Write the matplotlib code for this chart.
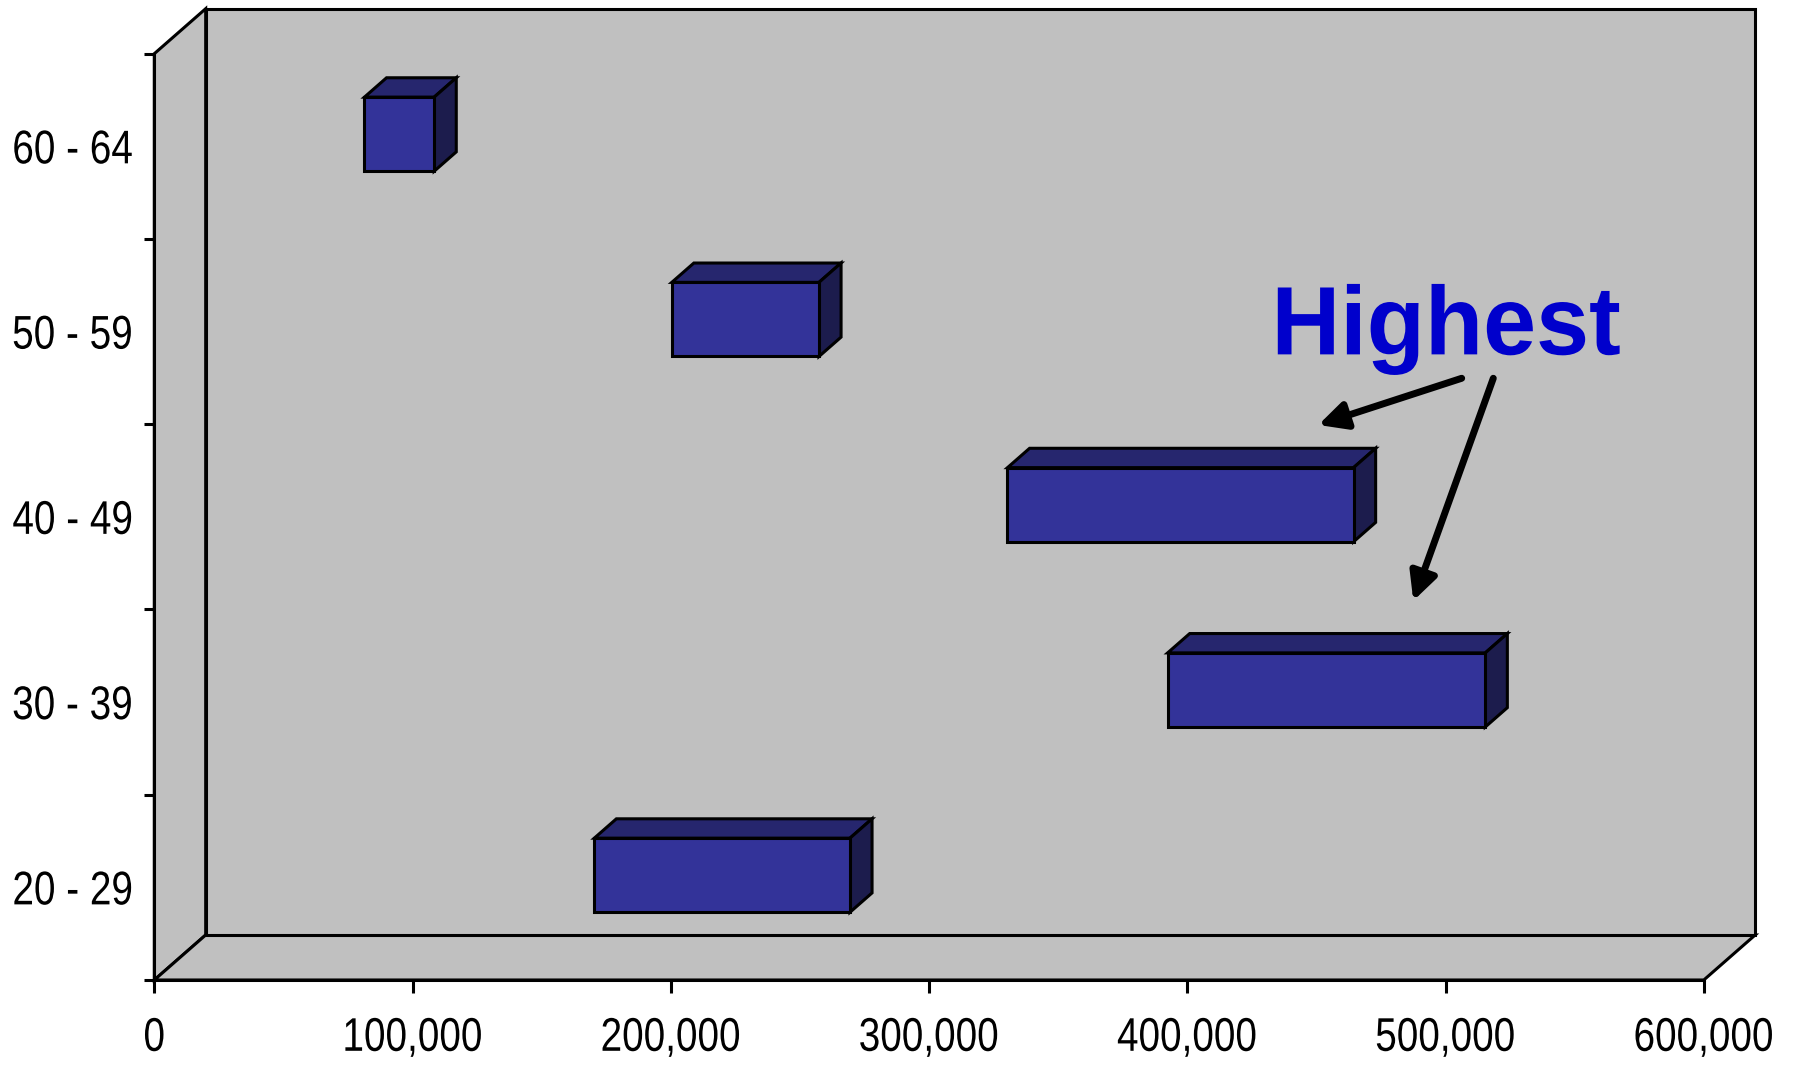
import matplotlib
matplotlib.use("Agg")
import matplotlib.pyplot as plt
from matplotlib.patches import Polygon
from matplotlib.patheffects import AbstractPathEffect
from matplotlib.transforms import Affine2D

# Age bands and the income range (low, high) each one spans
age_groups = ["20 - 29", "30 - 39", "40 - 49", "50 - 59", "60 - 64"]
range_low = [165000, 387000, 325000, 195000, 76000]
range_high = [264000, 510000, 459000, 252000, 103000]
x_ticks = [0, 100000, 200000, 300000, 400000, 500000, 600000]

FONT = ["Liberation Sans", "DejaVu Sans"]
WALL = "#C0C0C0"
FRONT = "#333399"
TOP = "#26266E"
SIDE = "#1C1C4D"
LW = 2.2


class Narrow(AbstractPathEffect):
    """Draws text condensed horizontally about its left, centre or right edge."""

    def __init__(self, sx, anchor="center"):
        super().__init__()
        self.sx = sx
        self.anchor = anchor

    def draw_path(self, renderer, gc, tpath, affine, rgbFace=None):
        ext = tpath.transformed(affine).get_extents()
        x0 = {"left": ext.x0, "right": ext.x1}.get(self.anchor, (ext.x0 + ext.x1) / 2)
        squeeze = Affine2D().translate(-x0, 0).scale(self.sx, 1).translate(x0, 0)
        renderer.draw_path(gc, tpath, affine + squeeze, rgbFace)


W, H = 1793, 1066
fig = plt.figure(figsize=(W / 100, H / 100), dpi=100)
fig.patch.set_facecolor("white")
ax_l, ax_b = 154.3, 1066 - 980
ax_w, ax_h = 1549.5, 926.3
ax = fig.add_axes([ax_l / W, ax_b / H, ax_w / W, ax_h / H])
ax.set_xlim(0, 600000)
ax.set_ylim(0, 5)
ax.patch.set_alpha(0)

# depth of the 3-D box in data units
DX, DY = 19900, 0.243
xmax, ymax = 600000, 5


def poly(pts, fc, z, lw=LW):
    ax.add_patch(Polygon(pts, closed=True, facecolor=fc, edgecolor="black",
                         linewidth=lw, joinstyle="miter", clip_on=False, zorder=z))


# side wall, floor and back wall
poly([(0, 0), (0, ymax), (DX, ymax + DY), (DX, DY)], WALL, 0)
poly([(0, 0), (xmax, 0), (xmax + DX, DY), (DX, DY)], WALL, 0)
poly([(DX, DY), (xmax + DX, DY), (xmax + DX, ymax + DY), (DX, ymax + DY)], WALL, 0)

# floating bars: front face at 27% of the depth, back face at 70%
f0, f1 = 0.27, 0.70
bar_h = 0.40
ox, oy = f0 * DX, f0 * DY
bx, by = (f1 - f0) * DX, (f1 - f0) * DY
centers = [i + 0.5 for i in range(len(age_groups))]
widths = [hi - lo for lo, hi in zip(range_low, range_high)]
bars = ax.barh([c + oy for c in centers], widths, height=bar_h,
               left=[lo + ox for lo in range_low], color=FRONT,
               edgecolor="black", linewidth=LW, zorder=4, clip_on=False)
for rect in bars:
    x0, y0 = rect.get_x(), rect.get_y()
    x1, y1 = x0 + rect.get_width(), y0 + rect.get_height()
    poly([(x0, y1), (x1, y1), (x1 + bx, y1 + by), (x0 + bx, y1 + by)], TOP, 3)
    poly([(x1, y0), (x1, y1), (x1 + bx, y1 + by), (x1 + bx, y0 + by)], SIDE, 3)

# axes
for s in ["top", "right"]:
    ax.spines[s].set_visible(False)
for s in ["left", "bottom"]:
    ax.spines[s].set_linewidth(LW)
    ax.spines[s].set_zorder(5)
ax.set_xticks(x_ticks)
ax.set_xticklabels([f"{v:,}" for v in x_ticks], family=FONT, fontsize=34)
ax.tick_params(axis="x", direction="out", length=9.5, width=LW, pad=17)
ax.set_yticks(range(len(age_groups) + 1))
ax.set_yticklabels([])
ax.tick_params(axis="y", which="major", direction="out", length=7.2, width=LW)
ax.set_yticks(centers, minor=True)
ax.set_yticklabels(age_groups, minor=True, family=FONT, fontsize=34)
ax.tick_params(axis="y", which="minor", length=0, pad=15)
for t in ax.get_xticklabels():
    t.set_path_effects([Narrow(0.82, "center")])
for t in ax.get_yticklabels(minor=True):
    t.set_path_effects([Narrow(0.82, "right")])

# annotation
ax.text(500170, 3.377, "Highest", family=FONT, fontweight="bold", fontsize=70,
        color="#0000CC", ha="center", va="baseline", zorder=6,
        path_effects=[Narrow(0.98, "center")])
arrow = dict(arrowstyle="-|>,head_length=1.0,head_width=0.5", color="black",
             lw=5, shrinkA=0, shrinkB=0, mutation_scale=16.5)
ax.annotate("", xy=(450730, 2.996), xytext=(506250, 3.248),
            arrowprops=arrow, zorder=6)
ax.annotate("", xy=(487510, 2.047), xytext=(518490, 3.248),
            arrowprops=arrow, zorder=6)

fig.savefig("out.png", dpi=100)
